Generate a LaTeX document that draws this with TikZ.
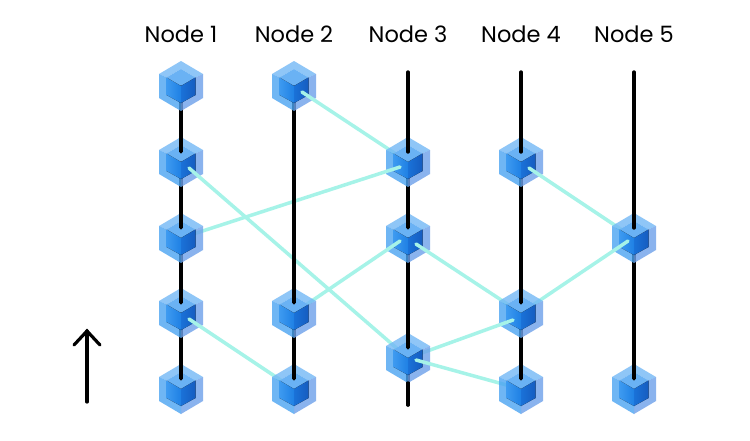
\documentclass[tikz,border=0pt]{standalone}
\usepackage{fontspec}
\setmainfont{Poppins}
\usetikzlibrary{calc}
\definecolor{cyanedge}{HTML}{A6F3E8}
\definecolor{hexL}{HTML}{4BA4F2}
\definecolor{hexT}{HTML}{73B8F5}
\definecolor{hexR}{HTML}{6DA1EA}
\definecolor{inT}{HTML}{6AB2F4}
\definecolor{inLa}{HTML}{3D9AF0}
\definecolor{inLb}{HTML}{1F80E4}
\definecolor{inRa}{HTML}{1A72D8}
\definecolor{inRb}{HTML}{155CC0}
\tikzset{
  x=1pt,y=-1pt,
  cubespot/.style={inner sep=0pt,minimum size=1pt,shape=coordinate},
  timeline/.style={draw=black,line width=3.4pt,line cap=round},
  link/.style={draw=cyanedge,line width=3.5pt,line cap=round},
  label/.style={font=\fontsize{22.5}{26}\selectfont,text=black,inner sep=0pt},
  cube/.pic={
    \fill[hexT,fill opacity=.8] (0,-25) -- (22,-12) -- (14.5,-8.5) -- (0,-17) -- (-14.5,-8.5) -- (-22,-12) -- cycle;
    \fill[hexL,fill opacity=.8] (-22,-12) -- (-14.5,-8.5) -- (-14.5,9) -- (0,17) -- (0,25) -- (-22,12) -- cycle;
    \fill[hexR,fill opacity=.8] (22,-12) -- (14.5,-8.5) -- (14.5,9) -- (0,17) -- (0,25) -- (22,12) -- cycle;
    \fill[inT] (0,-17) -- (14.5,-8.5) -- (0,0) -- (-14.5,-8.5) -- cycle;
    \fill[left color=inLa,right color=inLb] (-14.5,-8.5) -- (0,0) -- (0,17) -- (-14.5,9) -- cycle;
    \fill[left color=inRa,right color=inRb] (14.5,-8.5) -- (0,0) -- (0,17) -- (14.5,9) -- cycle;
  }
}
\begin{document}
\begin{tikzpicture}
\useasboundingbox (0,0) rectangle (750,440);
\fill[white] (0,0) rectangle (750,440);
% invisible anchors of cubes
\foreach \n/\x/\y in {a1/181/86,a2/181/162,a3/181/238,a4/181/313,a5/181/389,
  b1/294/86,b4/294/313,b5/294/389,
  c2/408/162,c3/408/238,c45/408/358,
  d2/521/162,d4/521/313,d5/521/389,
  e3/634/238,e5/634/389}
  \node[cubespot] (\n) at (\x,\y) {};
\coordinate (ctop) at (408,72);
\coordinate (cbot) at (408,405);
\coordinate (dtop) at (521,72);
\coordinate (etop) at (634,72);
% labels
\node[label] (l1) at (181,34) {Node 1};
\node[label] (l2) at (294,34) {Node 2};
\node[label] (l3) at (408,34) {Node 3};
\node[label] (l4) at (521,34) {Node 4};
\node[label] (l5) at (634,34) {Node 5};
% time arrow
\coordinate (arrowbot) at (87,402);
\coordinate (arrowtop) at (87,331);
\draw[black,line width=3.2pt,line cap=round] (arrowbot) -- (arrowtop);
\draw[black,line width=3.2pt,line cap=round,line join=miter] (74,345) -- (arrowtop) -- (100,345);
% timelines under the cubes
\foreach \p/\q in {a1/a2,a2/a3,a3/a4,a4/a5,b1/b4,b4/b5,c2/c3,c3/c45,d2/d4,d4/d5,e3/e5}
  \path[timeline] (\p) -- ($(\q)+(0,-10)$);
\path[timeline] (c45) -- (cbot);
% cubes, top rows first, with the links that leave them
\pic at (a1) {cube};
\pic at (b1) {cube};
\path[link] ($(b1)+(8,6)$) -- (c2);
\pic at (a2) {cube};
\pic at (c2) {cube};
\pic at (d2) {cube};
\path[link] ($(a2)+(8,6)$) -- (c45);
\path[link] ($(c2)+(-8,5)$) -- (a3);
\path[link] ($(d2)+(8,6)$) -- (e3);
\pic at (a3) {cube};
\pic at (c3) {cube};
\pic at (e3) {cube};
\path[link] ($(c3)+(8,6)$) -- (d4);
\path[link] ($(c3)+(-8,3)$) -- (b4);
\path[link] ($(e3)+(-6,3)$) -- (d4);
\pic at (a4) {cube};
\pic at (b4) {cube};
\pic at (d4) {cube};
\path[link] ($(a4)+(8,6)$) -- (b5);
\path[link] ($(d4)+(-8,7)$) -- (c45);
\pic at (c45) {cube};
\path[link] ($(c45)+(8,2)$) -- (d5);
\pic at (a5) {cube};
\pic at (b5) {cube};
\pic at (d5) {cube};
\pic at (e5) {cube};
% visible part of the timelines, over the lower cubes
\foreach \p/\q in {a1/a2,a2/a3,a3/a4,a4/a5,b1/b4,b4/b5,c2/c3,c3/c45,d2/d4,d4/d5,e3/e5}
  \path[timeline,line cap=butt] ($(\p)+(0,25)$) -- ($(\q)+(0,-10)$);
\foreach \q in {a2,a3,a4,a5,b4,b5,c3,c45,d4,d5,e5}
  \fill[black] ($(\q)+(0,-10)$) circle (1.7);
\path[timeline] (ctop) -- ($(c2)+(0,-10)$);
\path[timeline] (dtop) -- ($(d2)+(0,-10)$);
\path[timeline] (etop) -- ($(e3)+(0,-10)$);
\path[timeline,line cap=round] ($(c45)+(0,25)$) -- (cbot);
\end{tikzpicture}
\end{document}
